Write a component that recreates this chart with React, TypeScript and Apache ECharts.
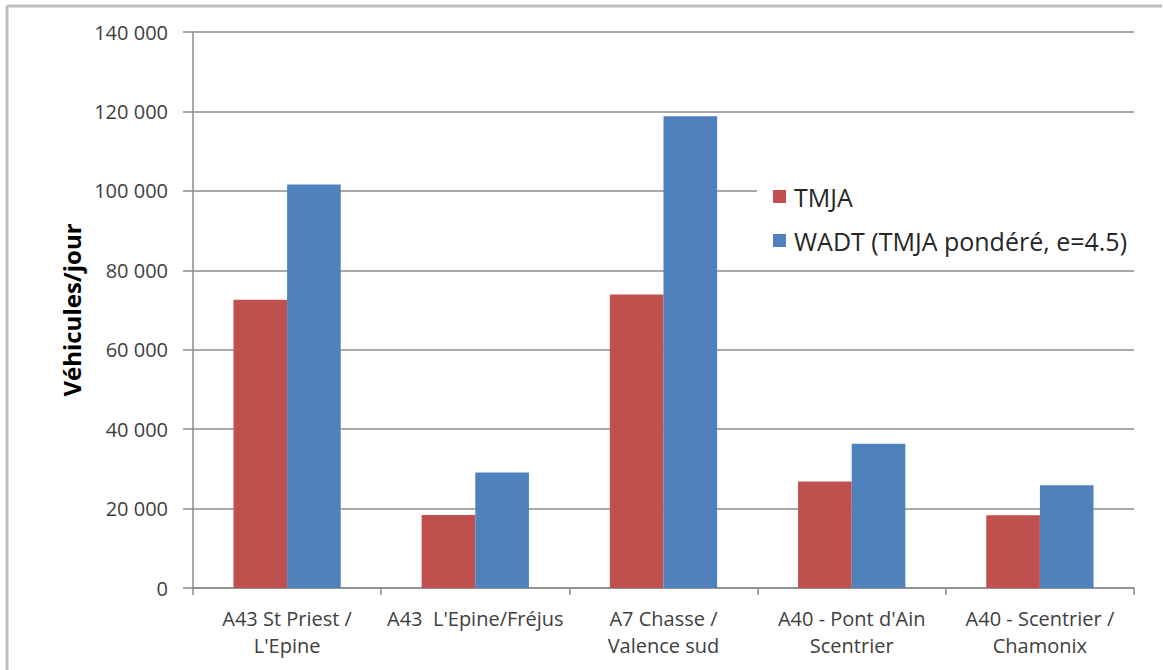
import React, { useEffect, useRef } from "react";
import * as echarts from "echarts";

const categories = [
  "A43 St Priest /\nL'Epine",
  "A43  L'Epine/Fréjus",
  "A7 Chasse /\nValence sud",
  "A40 - Pont d'Ain\nScentrier",
  "A40 - Scentrier /\nChamonix",
];
const tmja = [72600, 18400, 73900, 26800, 18300];
const wadt = [101600, 29100, 118800, 36300, 25900];
const seriesNames = ["TMJA", "WADT (TMJA pondéré, e=4.5)"];
const yTitle = "Véhicules/jour";

const FONT = "'Open Sans', Lato, sans-serif";

export default function App() {
  const ref = useRef<HTMLDivElement>(null);
  useEffect(() => {
    if (!ref.current) return;
    const chart = echarts.init(ref.current, null, { renderer: "svg" });
    chart.setOption({
      animation: false,
      backgroundColor: "#ffffff",
      textStyle: { fontFamily: FONT },
      graphic: [
        { type: "line", shape: { x1: 7, y1: 6, x2: 1162, y2: 6 }, style: { stroke: "#bdbdbd", lineWidth: 3 } },
        { type: "line", shape: { x1: 7, y1: 6, x2: 7, y2: 670 }, style: { stroke: "#bdbdbd", lineWidth: 3 } },
      ],
      grid: { left: 193, top: 32, right: 29, bottom: 82, containLabel: false },
      legend: {
        orient: "vertical",
        left: 757,
        top: 176,
        padding: [8, 14, 8, 16],
        backgroundColor: "#ffffff",
        itemWidth: 13,
        itemHeight: 13,
        itemGap: 19,
        icon: "rect",
        data: seriesNames,
        textStyle: { fontSize: 25, color: "#262626", fontFamily: FONT, padding: [0, 0, 0, 3] },
      },
      xAxis: {
        type: "category",
        data: categories,
        axisLine: { lineStyle: { color: "#8c8c8c", width: 1.5 } },
        axisTick: { show: true, length: 7, alignWithLabel: false, lineStyle: { color: "#8c8c8c", width: 1.5 } },
        axisLabel: {
          interval: 0,
          fontSize: 20,
          color: "#404040",
          margin: 17,
          lineHeight: 27,
          fontFamily: FONT,
        },
      },
      yAxis: {
        type: "value",
        min: 0,
        max: 140000,
        interval: 20000,
        name: yTitle,
        nameLocation: "middle",
        nameRotate: 90,
        nameGap: 107,
        nameTextStyle: { fontSize: 24, fontWeight: "bold", color: "#000000", fontFamily: FONT },
        axisLine: { show: true, lineStyle: { color: "#8c8c8c", width: 1.5 } },
        axisTick: { show: true, length: 10, inside: false, lineStyle: { color: "#8c8c8c", width: 1.5 } },
        splitLine: { show: true, lineStyle: { color: "#8c8c8c", width: 1.5 } },
        axisLabel: {
          fontSize: 20,
          color: "#404040",
          margin: 25,
          fontFamily: FONT,
          formatter: (v: number) => v.toString().replace(/\B(?=(\d{3})+(?!\d))/g, " "),
        },
      },
      series: [
        {
          name: seriesNames[0],
          type: "bar",
          data: tmja,
          itemStyle: { color: "#C0504D" },
          barGap: "0%",
          barCategoryGap: "43%",
        },
        {
          name: seriesNames[1],
          type: "bar",
          data: wadt,
          itemStyle: { color: "#4F81BD" },
          barGap: "0%",
          barCategoryGap: "43%",
        },
      ],
    });
    return () => chart.dispose();
  }, []);
  return (
    <div
      ref={ref}
      style={{ position: "fixed", left: 0, top: 0, width: 1163, height: 670 }}
    />
  );
}
